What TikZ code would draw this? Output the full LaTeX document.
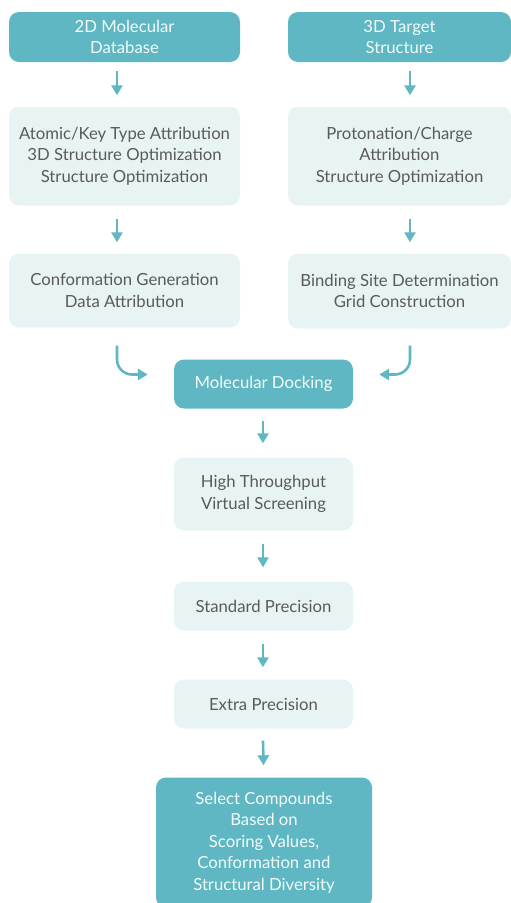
\documentclass[tikz,border=0pt]{standalone}
\usepackage{fontspec}
\setmainfont{Lato}
\usetikzlibrary{arrows.meta}
\definecolor{teal1}{HTML}{5EB7C2}
\definecolor{pale}{HTML}{E8F4F4}
\definecolor{txt}{HTML}{5A5A5A}
\begin{document}
\begin{tikzpicture}[x=1pt,y=-1pt,
  base/.style={rounded corners=10pt,inner sep=0pt,align=center,font=\fontsize{16.7}{21.5}\selectfont},
  dark/.style={base,fill=teal1,text=white!94!teal1},
  light/.style={base,fill=pale,text=txt},
  arr/.style={draw=teal1,line width=2.6pt,-{Triangle[width=11pt,length=10pt]}}]
\useasboundingbox (0,0) rectangle (511,903);
% left column
\node[dark,minimum width=231pt,minimum height=50pt] (b1) at (124.5,37) {2D Molecular\\Database};
\node[light,minimum width=231pt,minimum height=99pt] (b3) at (124.5,156) {Atomic/Key Type Attribution\\3D Structure Optimization\\Structure Optimization};
\node[light,minimum width=231pt,minimum height=74pt] (b5) at (124.5,290.5) {Conformation Generation\\Data Attribution};
% right column
\node[dark,minimum width=223pt,minimum height=50pt] (b2) at (399.5,37) {3D Target\\Structure};
\node[light,minimum width=223pt,minimum height=99pt] (b4) at (399.5,156) {Protonation/Charge\\Attribution\\Structure Optimization};
\node[light,minimum width=223pt,minimum height=75pt] (b6) at (399.5,291) {Binding Site Determination\\Grid Construction};
% centre column
\node[dark,minimum width=179pt,minimum height=49pt] (md) at (263.5,384) {Molecular Docking};
\node[light,minimum width=179pt,minimum height=73pt] (ht) at (263.5,494) {High Throughput\\Virtual Screening};
\node[light,minimum width=179pt,minimum height=49pt] (sp) at (263.5,606) {Standard Precision};
\node[light,minimum width=179pt,minimum height=49pt] (ep) at (263.5,704) {Extra Precision};
\node[dark,minimum width=216pt,minimum height=130pt] (sc) at (264,842.5) {Select Compounds\\Based on\\Scoring Values,\\Conformation and\\Structural Diversity};
% arrows
\draw[arr] ([xshift=-7.5pt,yshift=-9pt]b1.south) -- ([xshift=-7.5pt,yshift=11pt]b3.north);
\draw[arr] ([xshift=-7.5pt,yshift=-13pt]b3.south) -- ([xshift=-7.5pt,yshift=11pt]b5.north);
\draw[arr] ([xshift=10.5pt,yshift=-9pt]b2.south) -- ([xshift=10.5pt,yshift=11pt]b4.north);
\draw[arr] ([xshift=10.5pt,yshift=-13pt]b4.south) -- ([xshift=10.5pt,yshift=11pt]b6.north);
\draw[arr,rounded corners=15pt] ([xshift=-7.5pt,yshift=-18pt]b5.south) |- ([xshift=-26pt,yshift=9.5pt]md.west);
\draw[arr,rounded corners=15pt] ([xshift=10.5pt,yshift=-17pt]b6.south) |- ([xshift=26pt,yshift=9.5pt]md.east);
\draw[arr] ([xshift=-0.5pt,yshift=-12pt]md.south) -- ([xshift=-0.5pt,yshift=14pt]ht.north);
\draw[arr] ([xshift=-0.5pt,yshift=-13pt]ht.south) -- ([xshift=-0.5pt,yshift=14pt]sp.north);
\draw[arr] ([xshift=-0.5pt,yshift=-13pt]sp.south) -- ([xshift=-0.5pt,yshift=12pt]ep.north);
\draw[arr] ([xshift=-0.5pt,yshift=-12pt]ep.south) -- ([xshift=-0.5pt,yshift=12pt]sc.north);
\end{tikzpicture}
\end{document}
